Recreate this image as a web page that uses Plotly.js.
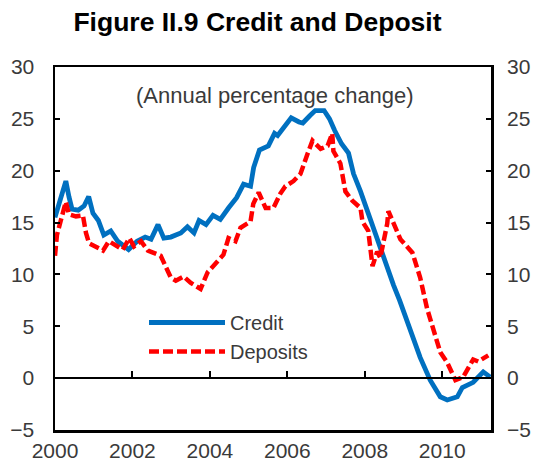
<!DOCTYPE html>
<html>
<head>
<meta charset="utf-8">
<script src="https://cdn.plot.ly/plotly-3.0.1.min.js"></script>
<style>html,body{margin:0;padding:0;background:#fff;}#chart{width:537px;height:463px;}</style>
</head>
<body>
<div id="chart"></div>
<script>
const titleText = "Figure II.9 Credit and Deposit";
const noteText = "(Annual percentage change)";
const seriesNames = ["Credit", "Deposits"];
const yearTicks = [2000, 2002, 2004, 2006, 2008, 2010];
const valueTicks = [-5, 0, 5, 10, 15, 20, 25, 30];

const creditYears = [2000.00,2000.08,2000.15,2000.28,2000.36,2000.44,2000.60,2000.75,2000.87,2000.98,2001.12,2001.26,2001.44,2001.62,2001.90,2002.12,2002.33,2002.48,2002.66,2002.81,2002.99,2003.25,2003.42,2003.59,2003.72,2003.90,2004.08,2004.27,2004.48,2004.69,2004.87,2005.05,2005.13,2005.28,2005.51,2005.67,2005.75,2005.90,2006.10,2006.30,2006.40,2006.58,2006.72,2006.95,2007.09,2007.22,2007.40,2007.58,2007.71,2007.89,2008.07,2008.22,2008.40,2008.58,2008.74,2008.90,2009.10,2009.27,2009.43,2009.69,2009.95,2010.13,2010.39,2010.52,2010.80,2011.06,2011.24];
const creditValues = [15.5,16.5,17.5,19.0,17.5,16.3,16.2,16.6,17.5,15.9,15.2,13.8,14.2,13.2,12.4,13.2,13.6,13.4,14.8,13.5,13.6,14.0,14.6,14.0,15.2,14.8,15.7,15.3,16.4,17.4,18.7,18.5,20.3,22.0,22.4,23.6,23.4,24.2,25.1,24.7,24.6,25.3,25.8,25.8,25.0,23.9,22.6,21.7,19.7,18.0,16.1,14.2,12.5,10.6,9.0,7.5,5.3,3.5,2.0,-0.2,-1.8,-2.1,-1.8,-0.9,-0.4,0.6,0.1];

const depositYears = [2000.00,2000.05,2000.15,2000.28,2000.36,2000.54,2000.72,2000.80,2000.88,2001.00,2001.24,2001.39,2001.57,2001.75,2001.92,2002.04,2002.22,2002.40,2002.73,2002.86,2002.99,2003.12,2003.32,2003.50,2003.76,2003.94,2004.09,2004.35,2004.48,2004.66,2004.79,2005.05,2005.12,2005.26,2005.44,2005.64,2005.82,2005.95,2006.16,2006.34,2006.52,2006.65,2006.86,2007.04,2007.16,2007.19,2007.37,2007.45,2007.50,2007.68,2007.89,2007.94,2008.09,2008.20,2008.32,2008.40,2008.58,2008.61,2008.74,2008.92,2009.23,2009.43,2009.61,2009.82,2009.95,2010.13,2010.34,2010.54,2010.67,2010.80,2010.93,2011.10,2011.19];
const depositValues = [11.8,13.8,15.2,17.0,15.8,15.6,15.7,14.0,13.0,12.8,12.3,13.2,12.8,12.4,13.5,12.7,13.2,12.3,11.8,10.7,9.7,9.4,9.8,9.2,8.6,10.2,10.8,11.9,13.5,13.2,14.5,15.1,16.8,17.9,16.4,16.4,17.8,18.5,19.0,19.7,21.6,22.9,22.1,22.4,23.6,21.9,20.7,19.3,18.0,17.1,16.4,15.1,14.2,10.8,12.2,11.6,14.9,16.1,14.9,13.4,12.1,9.7,6.7,4.2,2.5,1.5,-0.2,0.1,1.0,1.8,1.6,2.0,2.2];

const tickFont = {family: "Liberation Sans, Arial, sans-serif", size: 21, color: "#3a3a3a"};

const traces = [
  {x: creditYears, y: creditValues, name: seriesNames[0], type: "scatter", mode: "lines",
   xaxis: "x", yaxis: "y",
   line: {color: "#0070C0", width: 4.8}},
  {x: depositYears, y: depositValues, name: seriesNames[1], type: "scatter", mode: "lines",
   xaxis: "x2", yaxis: "y2",
   line: {color: "#FF0000", width: 4.5, dash: "10px,4px"}}
];

const yRange = [-5, 30];
const xRange = [2000, 2011.26];

const layout = {
  width: 537, height: 463,
  margin: {l: 55, r: 46, t: 67, b: 33},
  paper_bgcolor: "#fff", plot_bgcolor: "#fff",
  showlegend: true,
  title: {text: titleText, x: 0.4795, xref: "container", xanchor: "center",
          y: 1 - 22/463, yref: "container", yanchor: "middle",
          font: {family: "Liberation Sans, Arial, sans-serif", size: 26.5, color: "#000", weight: "bold"}},
  xaxis: {range: xRange, tickvals: yearTicks, tickformat: "d", ticks: "", showgrid: false, zeroline: false,
          showline: true, mirror: true, linecolor: "#000", linewidth: 2.5,
          tickfont: tickFont, ticklabelstandoff: 0, fixedrange: true},
  xaxis2: {range: xRange, tickvals: yearTicks, overlaying: "x", anchor: "free", position: (0 - yRange[0]) / (yRange[1] - yRange[0]),
           side: "bottom", showticklabels: false, ticks: "inside", ticklen: 6, tickwidth: 2, tickcolor: "#000",
           showline: true, linecolor: "#000", linewidth: 2, showgrid: false, zeroline: false},
  yaxis: {range: yRange, tickvals: valueTicks, ticks: "inside", ticklen: 5, tickwidth: 2, tickcolor: "#000",
          showgrid: false, zeroline: false, showline: true, mirror: true, linecolor: "#000", linewidth: 2.5,
          tickfont: tickFont, ticklabelstandoff: 14},
  yaxis2: {range: yRange, tickvals: valueTicks, overlaying: "y", side: "right", anchor: "x",
           ticks: "inside", ticklen: 5, tickwidth: 2, tickcolor: "#000",
           showgrid: false, zeroline: false, showline: false,
           tickfont: tickFont, ticklabelstandoff: 15},
  legend: {x: (144 - 55) / 436, xanchor: "left", y: (430 - 303) / 363, yanchor: "top",
           bgcolor: "rgba(0,0,0,0)", borderwidth: 0, itemwidth: 76,
           font: {family: "Liberation Sans, Arial, sans-serif", size: 20, color: "#3a3a3a"},
           tracegroupgap: 0},
  annotations: [{text: noteText, xref: "paper", yref: "paper", x: (275 - 55) / 436, y: (430 - 95) / 363,
                 xanchor: "center", yanchor: "middle", showarrow: false,
                 font: {family: "Liberation Sans, Arial, sans-serif", size: 22, color: "#3a3a3a"}}]
};

Plotly.newPlot("chart", traces, layout, {displayModeBar: false, staticPlot: true});
</script>
</body>
</html>
